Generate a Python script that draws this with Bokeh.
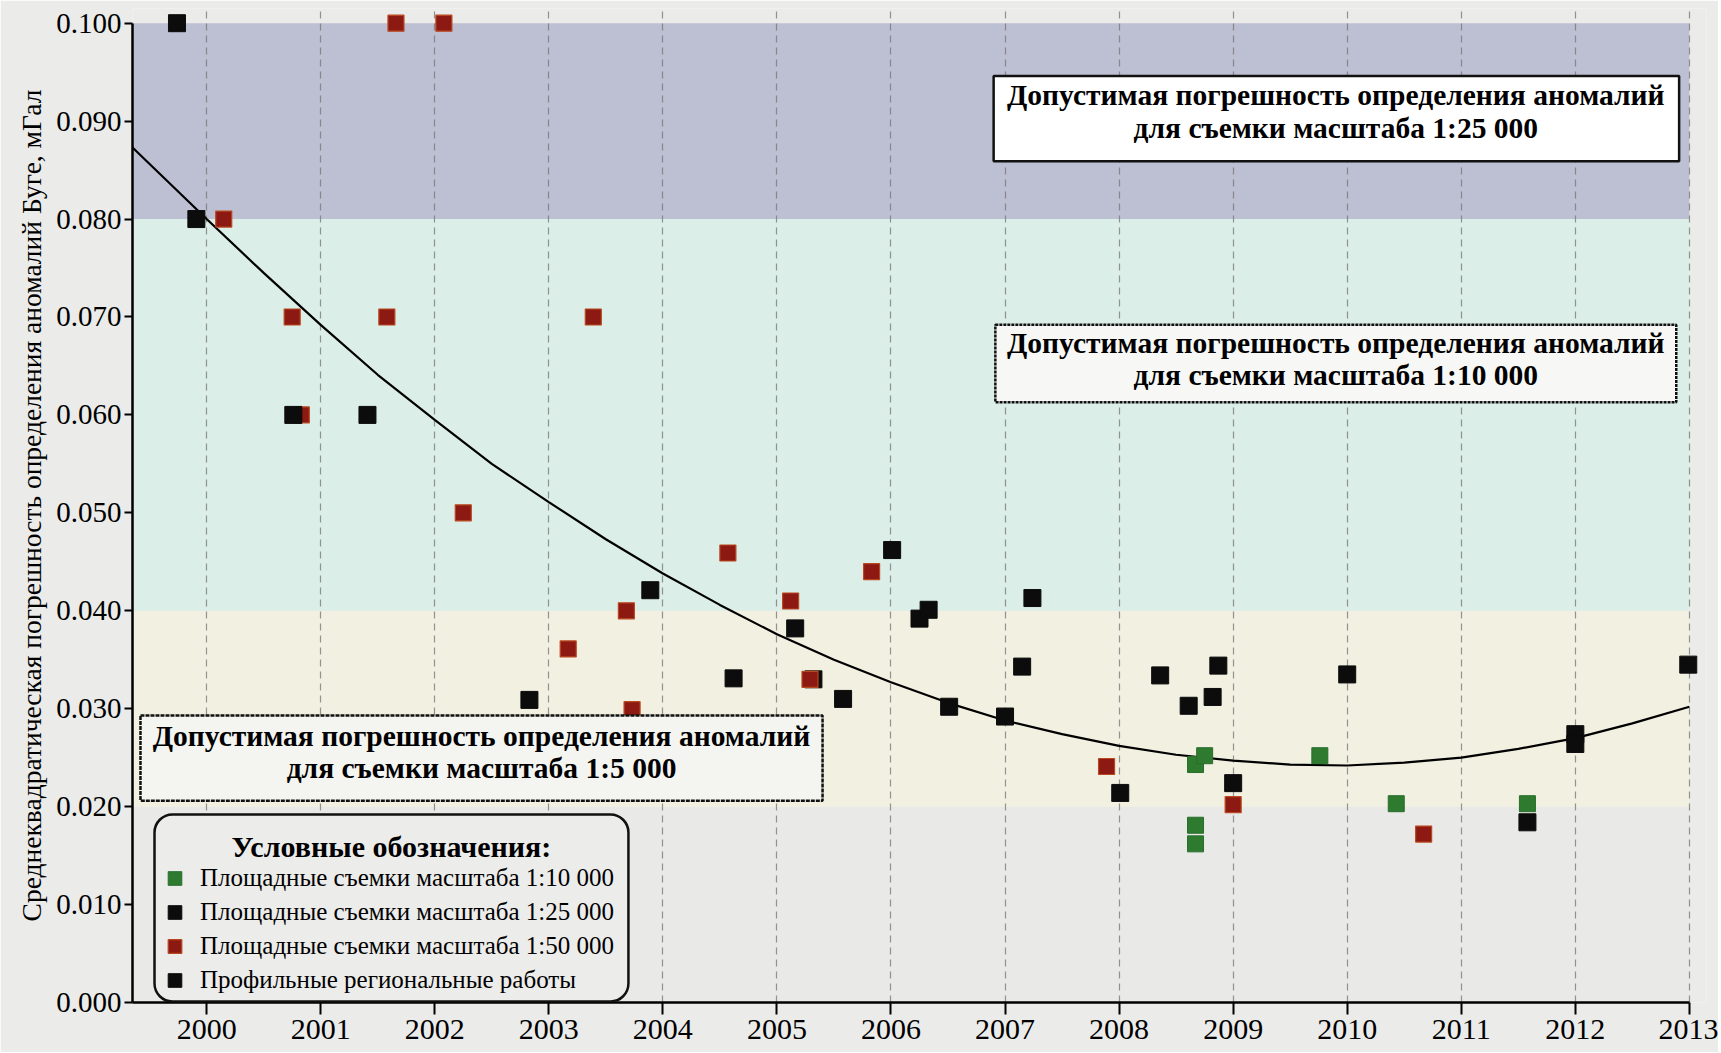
from bokeh.plotting import figure
from bokeh.models import (BoxAnnotation, Label, Legend, LegendItem, FixedTicker,
                          PrintfTickFormatter, Range1d)
from bokeh.embed import file_html
from bokeh.resources import INLINE

# ---------------- data ----------------
YEAR_TICKS = list(range(2000, 2014))
Y_TICKS = [0.0, 0.01, 0.02, 0.03, 0.04, 0.05, 0.06, 0.07, 0.08, 0.09, 0.10]

# accuracy bands (lower, upper)
BAND_LOW = [0.0, 0.02, 0.04, 0.08]
BAND_HIGH = [0.02, 0.04, 0.08, 0.10]
BAND_COLORS = ["#e9e9e8", "#f1f0e1", "#dbeee8", "#bdbfd2"]

# Площадные съемки масштаба 1:10 000
G10_YEAR = [2008.67, 2008.75, 2008.67, 2008.67, 2009.76, 2010.43, 2011.58]
G10_VAL = [0.0243, 0.0252, 0.0181, 0.0162, 0.0252, 0.0203, 0.0203]

# Площадные съемки масштаба 1:25 000
G25_YEAR = [2003.89, 2004.62, 2005.16, 2005.32, 2005.58, 2006.01, 2006.25, 2006.33,
            2006.51, 2007.00, 2007.15, 2007.24, 2008.01, 2008.36, 2008.61, 2008.82,
            2008.87, 2009.00, 2010.00, 2011.58, 2012.00, 2012.00]
G25_VAL = [0.0421, 0.0331, 0.0382, 0.0330, 0.0310, 0.0462, 0.0392, 0.0401,
           0.0302, 0.0292, 0.0343, 0.0413, 0.0214, 0.0334, 0.0303, 0.0312,
           0.0344, 0.0224, 0.0335, 0.0184, 0.0274, 0.0264]

# Площадные съемки масштаба 1:50 000
G50_YEAR = [2000.15, 2001.66, 2002.08, 2000.75, 2001.58, 2003.39, 2000.83, 2002.25,
            2003.17, 2003.68, 2003.73, 2004.57, 2005.12, 2005.29, 2005.83, 2007.89,
            2009.00, 2010.67]
G50_VAL = [0.080, 0.100, 0.100, 0.070, 0.070, 0.070, 0.060, 0.050,
           0.0361, 0.0400, 0.0299, 0.0459, 0.0410, 0.0330, 0.0440, 0.0241,
           0.0202, 0.0172]

# Профильные региональные работы
PROF_YEAR = [1999.74, 1999.91, 2000.76, 2001.41, 2002.83, 2012.99]
PROF_VAL = [0.100, 0.080, 0.060, 0.060, 0.0309, 0.0345]

# trend curve
CURVE_YEAR = [1999.35, 2000.0, 2000.5, 2001.0, 2001.5, 2002.0, 2002.5, 2003.0, 2003.5,
              2004.0, 2004.5, 2005.0, 2005.5, 2006.0, 2006.5, 2007.0, 2007.5, 2008.0,
              2008.5, 2009.0, 2009.5, 2010.0, 2010.5, 2011.0, 2011.5, 2012.0, 2012.5, 2013.0]
CURVE_VAL = [0.0873, 0.0800, 0.0745, 0.0692, 0.0641, 0.0595, 0.0550, 0.0511, 0.0473,
             0.0438, 0.0406, 0.0376, 0.0350, 0.0327, 0.0306, 0.0288, 0.0274, 0.0262,
             0.0253, 0.0247, 0.0243, 0.0242, 0.0245, 0.0250, 0.0259, 0.0270, 0.0285, 0.0302]

Y_LABEL = "Среднеквадратическая погрешность определения аномалий Буге, мГал"
BOX_LINE1 = "Допустимая погрешность определения аномалий"
BOX_LINE2 = ["для съемки масштаба 1:25 000", "для съемки масштаба 1:10 000",
             "для съемки масштаба 1:5 000"]
LEGEND_TITLE = "Условные обозначения:"
LEGEND_LABELS = ["Площадные съемки масштаба 1:10 000", "Площадные съемки масштаба 1:25 000",
                 "Площадные съемки масштаба 1:50 000", "Профильные региональные работы"]

SERIF = "Liberation Serif"
BG = "#ebebea"

p = figure(frame_width=1574, frame_height=994,
           min_border_left=132, min_border_right=12, min_border_top=8, min_border_bottom=50,
           x_range=Range1d(1999.35, 2013.15), y_range=Range1d(0, 0.1015),
           output_backend="svg", toolbar_location=None,
           background_fill_color=BG, border_fill_color=BG, outline_line_color=None)

# bands
for lo, hi, c in zip(BAND_LOW, BAND_HIGH, BAND_COLORS):
    p.add_layout(BoxAnnotation(bottom=lo, top=hi, left=1999.35, right=2013.0,
                               fill_color=c, fill_alpha=1.0, line_color=None, level="image"))

# grid
p.ygrid.visible = False
p.xgrid.ticker = FixedTicker(ticks=YEAR_TICKS)
p.xgrid.grid_line_color = "#7a7a7a"
p.xgrid.grid_line_dash = "7 5"
p.xgrid.grid_line_width = 1.2
p.xgrid.grid_line_alpha = 0.8

# axes
p.xaxis.ticker = FixedTicker(ticks=YEAR_TICKS)
p.yaxis.ticker = FixedTicker(ticks=Y_TICKS)
p.yaxis.formatter = PrintfTickFormatter(format="%.3f")
p.xaxis.bounds = (1999.35, 2013.0)
p.yaxis.bounds = (0.0, 0.10)
for ax in (p.xaxis[0], p.yaxis[0]):
    ax.axis_line_color = "black"
    ax.axis_line_width = 2.5
    ax.major_tick_line_color = "black"
    ax.major_tick_line_width = 2
    ax.minor_tick_line_color = None
    ax.major_tick_in = 0
    ax.major_label_text_font = SERIF
    ax.major_label_text_font_size = "29px"
    ax.major_label_text_color = "black"
p.xaxis.major_label_text_font_size = "30px"
p.xaxis.major_tick_out = 12
p.xaxis.major_label_standoff = 5
p.yaxis.major_tick_out = 8
p.yaxis.major_label_standoff = 3
p.yaxis.axis_label = Y_LABEL
p.yaxis.axis_label_text_font = SERIF
p.yaxis.axis_label_text_font_size = "27.5px"
p.yaxis.axis_label_text_font_style = "normal"
p.yaxis.axis_label_text_color = "black"
p.yaxis.axis_label_standoff = 6

# trend curve
p.line(CURVE_YEAR, CURVE_VAL, line_color="black", line_width=2.2)

# points
r25 = p.scatter(G25_YEAR, G25_VAL, marker="square", size=17,
                fill_color="#0c0c0c", line_color="#0c0c0c")
r50 = p.scatter(G50_YEAR, G50_VAL, marker="square", size=16,
                fill_color="#8c1a12", line_color="#b9471f", line_width=1.2)
r10 = p.scatter(G10_YEAR, G10_VAL, marker="square", size=16,
                fill_color="#2e7b30", line_color="#2a6e2c")
rpr = p.scatter(PROF_YEAR, PROF_VAL, marker="square", size=17,
                fill_color="#0c0c0c", line_color="#0c0c0c")

# text boxes
BOXES = [
    dict(left=2006.90, right=2012.91, top=0.0946, bottom=0.0859, fill="#ffffff", dash="solid",
         tx=2009.90, ty=(0.09265, 0.08929)),
    dict(left=2006.915, right=2012.885, top=0.0692, bottom=0.0613, fill="#f7f8f6", dash="3 1",
         tx=2009.90, ty=(0.06735, 0.06408)),
    dict(left=1999.42, right=2005.40, top=0.0293, bottom=0.0206, fill="#f4f4f1", dash="4 1",
         tx=2002.41, ty=(0.02724, 0.02398)),
]
for b, l2 in zip(BOXES, BOX_LINE2):
    p.add_layout(BoxAnnotation(left=b["left"], right=b["right"], top=b["top"], bottom=b["bottom"],
                               fill_color=b["fill"], fill_alpha=1.0, line_color="#111111",
                               line_alpha=1.0, line_width=2.5, line_dash=b["dash"]))
    for txt, yy in zip((BOX_LINE1, l2), b["ty"]):
        p.add_layout(Label(x=b["tx"], y=yy, text=txt, text_align="center", text_baseline="middle",
                           text_font=SERIF, text_font_style="bold", text_font_size="29.5px",
                           text_color="black"))

# legend frame
p.add_layout(BoxAnnotation(left=1999.543, right=2003.698, top=0.0192, bottom=0.0001,
                           fill_color="#ececeb", fill_alpha=1.0, line_color="#111111",
                           line_alpha=1.0, line_width=2.5, border_radius=18))
p.add_layout(Label(x=2001.62, y=0.01592, text=LEGEND_TITLE, text_align="center",
                   text_baseline="middle", text_font=SERIF, text_font_style="bold",
                   text_font_size="30px", text_color="black"))

legend = Legend(items=[LegendItem(label=LEGEND_LABELS[0], renderers=[r10]),
                       LegendItem(label=LEGEND_LABELS[1], renderers=[r25]),
                       LegendItem(label=LEGEND_LABELS[2], renderers=[r50]),
                       LegendItem(label=LEGEND_LABELS[3], renderers=[rpr])],
                location=(25, 5), padding=0, margin=0, spacing=0,
                glyph_width=35, glyph_height=34, label_height=34, label_standoff=8,
                label_text_font=SERIF, label_text_font_size="25px", label_text_color="black",
                background_fill_alpha=0, border_line_alpha=0)
p.add_layout(legend)

open("out.html", "w").write(file_html(p, INLINE))
